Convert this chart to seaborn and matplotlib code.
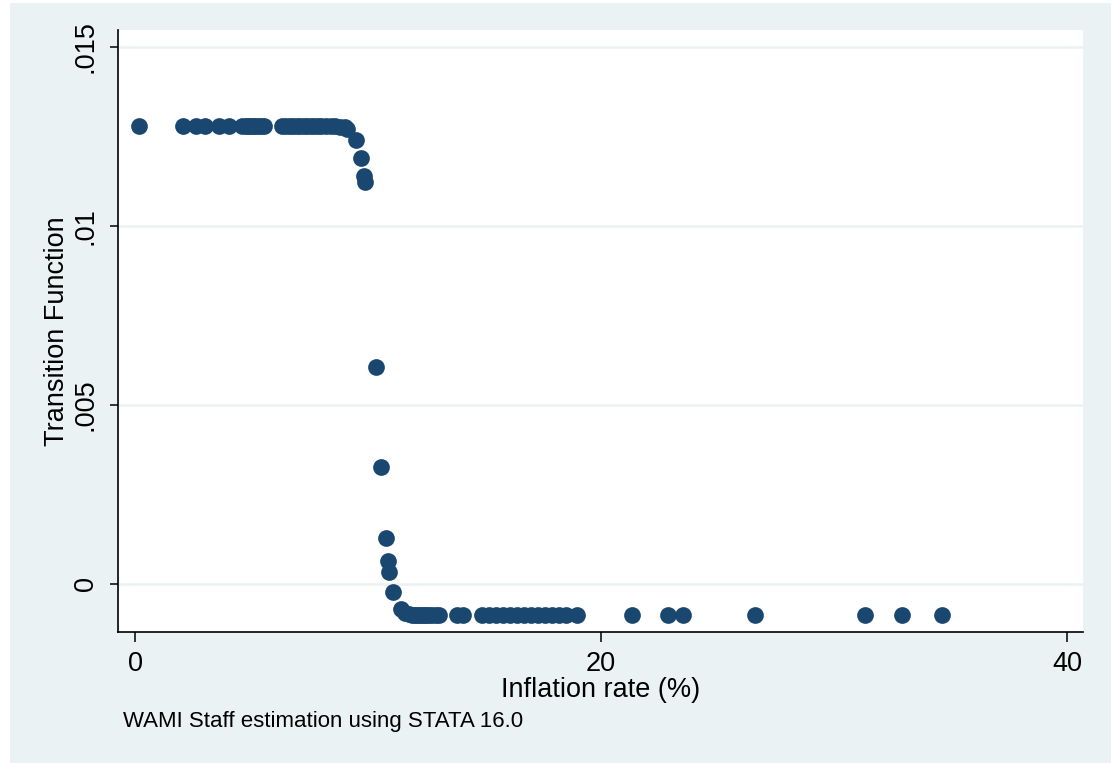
import matplotlib
matplotlib.use("Agg")
import matplotlib.pyplot as plt
import seaborn as sns
import pandas as pd
from matplotlib.patches import Rectangle

# ---- data ----
inflation = [
    0.17, 2.07, 2.62, 3.0, 3.6, 4.03,
    4.6, 4.75, 4.85, 4.95, 5.05, 5.15, 5.3, 5.4, 5.54,
    6.3, 6.5, 6.65, 6.8, 6.95, 7.1, 7.25, 7.4, 7.55, 7.7, 7.85, 8.0, 8.2, 8.4,
    8.6, 8.8, 9.0, 9.1,
    9.48, 9.7, 9.83, 9.87,
    10.34, 10.54, 10.76, 10.84, 10.9, 11.06, 11.42,
    11.6, 11.75, 11.9, 12.0, 12.1, 12.2, 12.3, 12.4, 12.5, 12.6, 12.75, 12.9, 13.05,
    13.84, 14.06,
    14.9, 15.2, 15.5, 15.8, 16.1, 16.4, 16.7, 17.0, 17.3, 17.6, 17.9, 18.2, 18.5, 18.95,
    21.34, 22.86, 23.53, 26.61, 31.33, 32.9, 34.64,
]
transition = [
    0.01279, 0.01279, 0.01279, 0.01279, 0.01279, 0.01279,
    0.01279, 0.01279, 0.01279, 0.01279, 0.01279, 0.01279, 0.01279, 0.01279, 0.01279,
    0.01279, 0.01279, 0.01279, 0.01279, 0.01279, 0.01279, 0.01279, 0.01279, 0.01279,
    0.01279, 0.01279, 0.01279, 0.01279, 0.01279,
    0.01278, 0.01277, 0.01276, 0.01272,
    0.0124, 0.0119, 0.01141, 0.01123,
    0.00605, 0.00326, 0.00128, 0.00065, 0.00033, -0.00022, -0.00071,
    -0.00080, -0.00084, -0.00086, -0.000866, -0.000866, -0.000866, -0.000866, -0.000866,
    -0.000866, -0.000866, -0.000866, -0.000866, -0.000866,
    -0.000866, -0.000866,
    -0.000866, -0.000866, -0.000866, -0.000866, -0.000866, -0.000866, -0.000866,
    -0.000866, -0.000866, -0.000866, -0.000866, -0.000866, -0.000866, -0.000866,
    -0.000866, -0.000866, -0.000866, -0.000866, -0.000866, -0.000866, -0.000866,
]
x_ticks = [0, 20, 40]
x_ticklabels = ["0", "20", "40"]
y_ticks = [0, 0.005, 0.01, 0.015]
y_ticklabels = ["0", ".005", ".01", ".015"]

BG = "#EAF2F3"
NAVY = "#1A476F"

sns.set_style("white")
plt.rcParams["font.family"] = ["Liberation Sans", "DejaVu Sans"]
plt.rcParams["text.color"] = "black"
plt.rcParams["axes.labelcolor"] = "black"
plt.rcParams["xtick.color"] = "black"
plt.rcParams["ytick.color"] = "black"

W, H = 1111, 763
fig = plt.figure(figsize=(W / 100, H / 100), dpi=100, facecolor=BG)
# thin white margin at the left/top like the reference
fig.patches.append(Rectangle((0, 0), 10 / W, 1, transform=fig.transFigure,
                             facecolor="white", edgecolor="none", zorder=0))
fig.patches.append(Rectangle((0, 1 - 3 / H), 1, 3 / H, transform=fig.transFigure,
                             facecolor="white", edgecolor="none", zorder=0))

ax = fig.add_axes([118 / W, 1 - 632 / H, (1083 - 118) / W, (632 - 30) / H])
ax.set_facecolor("white")

df = pd.DataFrame({"inflation": inflation, "transition": transition})
sns.scatterplot(data=df, x="inflation", y="transition", ax=ax,
                color=NAVY, s=145, linewidth=0, zorder=3)

ax.set_xlim(-0.73, 40.69)
ax.set_ylim(-0.001341, 0.015475)

ax.set_xticks(x_ticks)
ax.set_xticklabels(x_ticklabels)
ax.set_yticks(y_ticks)
ax.set_yticklabels(y_ticklabels, rotation=90, va="center")

ax.yaxis.grid(True, color=BG, linewidth=1.8, zorder=0)
ax.xaxis.grid(False)
ax.set_axisbelow(True)

for side in ["top", "right"]:
    ax.spines[side].set_visible(False)
for side in ["left", "bottom"]:
    ax.spines[side].set_color("black")
    ax.spines[side].set_linewidth(1.2)

ax.tick_params(axis="x", direction="out", length=7, width=1.1, color="black",
               labelsize=19.5, labelcolor="black", pad=7, bottom=True)
ax.tick_params(axis="y", direction="out", length=6, width=1.1, color="black",
               labelsize=19.5, labelcolor="black", pad=8, left=True)

ax.set_xlabel("")
ax.set_ylabel("")
fig.text(601 / W, 1 - 690 / H, "Inflation rate (%)", ha="center", va="center",
         fontsize=19.5, color="black")
fig.text(57 / W, 1 - 331 / H, "Transition Function", ha="center", va="center",
         rotation=90, fontsize=19.5, color="black")
fig.text(123 / W, 1 - 722 / H, "WAMI Staff estimation using STATA 16.0",
         ha="left", va="center", fontsize=16, color="black")

fig.savefig("out.png", dpi=100, facecolor=fig.get_facecolor())
